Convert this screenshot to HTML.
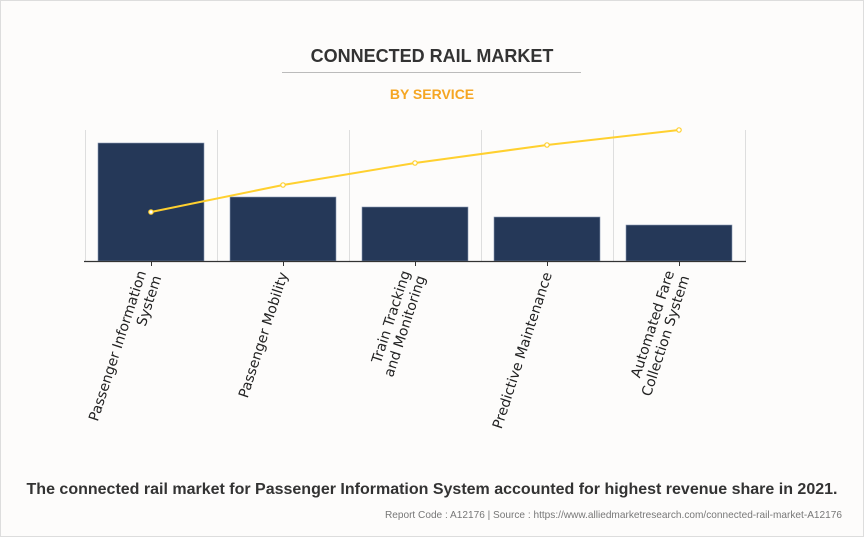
<!DOCTYPE html>
<html><head><style>
html,body{margin:0;padding:0;background:#fdfcfb;}
svg{display:block;}
</style></head><body>
<svg width="864" height="537" xmlns="http://www.w3.org/2000/svg">
<rect x="0.5" y="0.5" width="863" height="536" fill="#fdfcfb" stroke="#dddddd"/>
<text x="432" y="62" text-anchor="middle" font-family="Liberation Sans, sans-serif" font-weight="bold" font-size="18" fill="#333">CONNECTED RAIL MARKET</text>
<line x1="282" y1="72.5" x2="581" y2="72.5" stroke="#bbb" stroke-width="1"/>
<text x="432" y="99" text-anchor="middle" font-family="Liberation Sans, sans-serif" font-weight="bold" font-size="14" fill="#f5a623">BY SERVICE</text>
<g stroke="#dedede" stroke-width="1">
<line x1="85.5" y1="130" x2="85.5" y2="261"/><line x1="217.5" y1="130" x2="217.5" y2="261"/>
<line x1="349.5" y1="130" x2="349.5" y2="261"/><line x1="481.5" y1="130" x2="481.5" y2="261"/>
<line x1="613.5" y1="130" x2="613.5" y2="261"/><line x1="745.5" y1="130" x2="745.5" y2="261"/>
</g>
<g fill="#253858" stroke="#8a99b3" stroke-width="0.6">
<rect x="98" y="143" width="106" height="118"/>
<rect x="230" y="197" width="106" height="64"/>
<rect x="362" y="207" width="106" height="54"/>
<rect x="494" y="217" width="106" height="44"/>
<rect x="626" y="225" width="106" height="36"/>
</g>
<line x1="84" y1="261.5" x2="746" y2="261.5" stroke="#333" stroke-width="1.2"/>
<g stroke="#333" stroke-width="1"><line x1="151.5" y1="261" x2="151.5" y2="266"/><line x1="283.5" y1="261" x2="283.5" y2="266"/><line x1="415.5" y1="261" x2="415.5" y2="266"/><line x1="547.5" y1="261" x2="547.5" y2="266"/><line x1="679.5" y1="261" x2="679.5" y2="266"/></g>
<polyline points="151,212 283,185 415,163 547,145 679,130" fill="none" stroke="#ffd02f" stroke-width="2"/>
<g fill="#fff" stroke="#ffd02f" stroke-width="1.2">
<circle cx="151" cy="212" r="2.2"/><circle cx="283" cy="185" r="2.2"/><circle cx="415" cy="163" r="2.2"/><circle cx="547" cy="145" r="2.2"/><circle cx="679" cy="130" r="2.2"/>
</g>
<g font-family="DejaVu Sans, Liberation Sans, sans-serif" font-size="14" fill="#222" text-anchor="end">
<text transform="translate(151,274) rotate(-72)"><tspan x="0" dy="-5">Passenger Information</tspan><tspan x="0" dy="16">System</tspan></text>
<text transform="translate(288,274) rotate(-72)">Passenger Mobility</text>
<text transform="translate(415,274) rotate(-72)"><tspan x="0" dy="-5">Train Tracking</tspan><tspan x="0" dy="16">and Monitoring</tspan></text>
<text transform="translate(552,274) rotate(-72)">Predictive Maintenance</text>
<text transform="translate(679,274) rotate(-72)"><tspan x="0" dy="-5">Automated Fare</tspan><tspan x="0" dy="16">Collection System</tspan></text>
</g>
<text x="432" y="494" text-anchor="middle" font-family="Liberation Sans, sans-serif" font-weight="bold" font-size="16" fill="#333">The connected rail market for Passenger Information System accounted for highest revenue share in 2021.</text>
<text x="842" y="518" text-anchor="end" font-family="Liberation Sans, sans-serif" font-size="10.1" fill="#777">Report Code : A12176  |  Source : https://www.alliedmarketresearch.com/connected-rail-market-A12176</text>
</svg>
</body></html>
